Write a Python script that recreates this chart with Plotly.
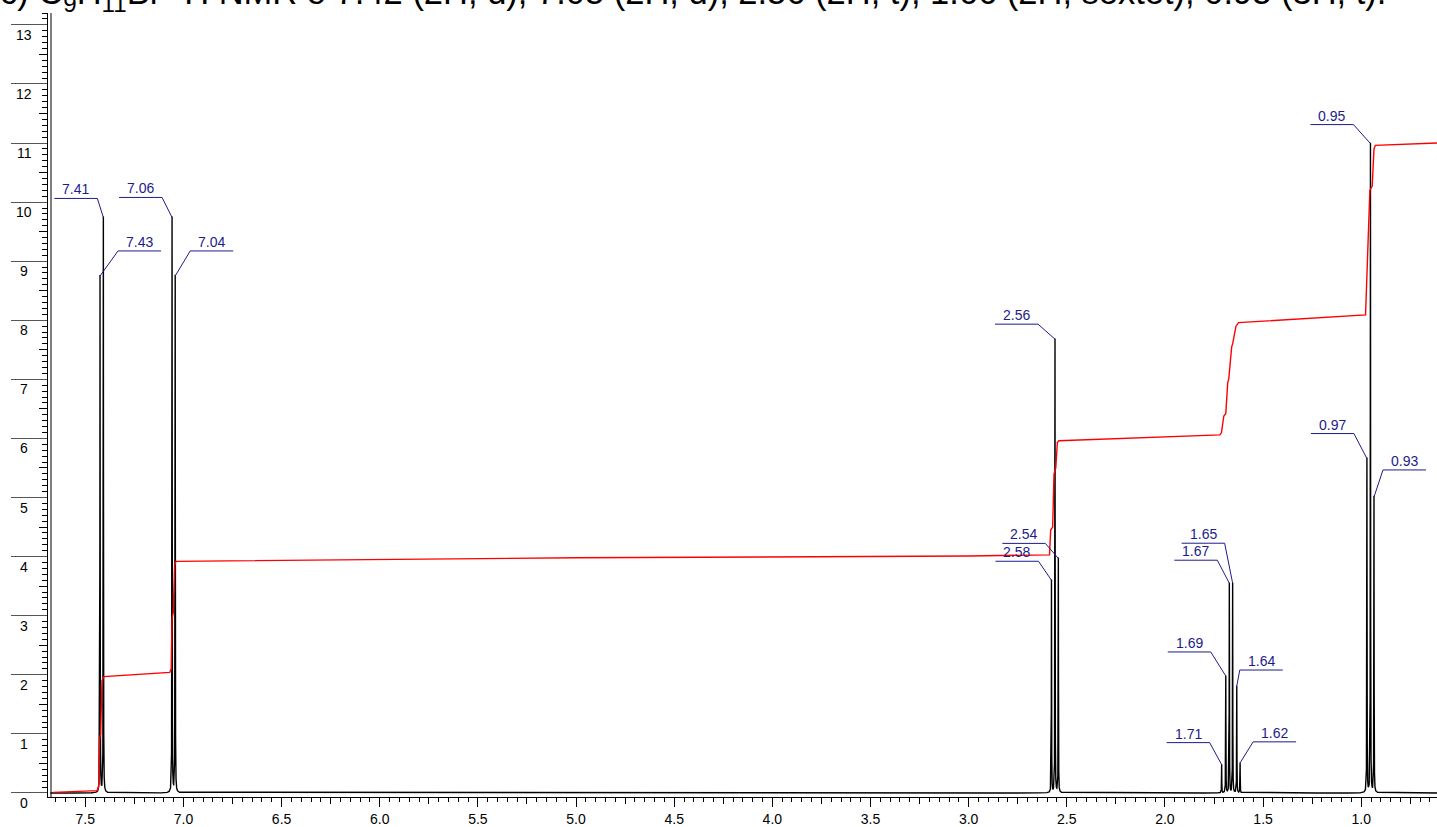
import numpy as np
import plotly.graph_objects as go

# ---------------- data ----------------
peak_ppm = [7.425, 7.408, 7.058, 7.042, 2.578, 2.560, 2.543,
            1.711, 1.690, 1.672, 1.655, 1.634, 1.617, 0.971, 0.953, 0.935]
peak_height = [8.75, 9.74, 9.74, 8.75, 3.60, 7.68, 3.97,
               0.48, 1.98, 3.55, 3.55, 1.81, 0.51, 5.66, 10.99, 5.01]
peak_label = ["7.43", "7.41", "7.06", "7.04", "2.58", "2.56", "2.54",
              "1.71", "1.69", "1.67", "1.65", "1.64", "1.62", "0.97", "0.95", "0.93"]

integral_ppm = [7.665, 7.44, 7.432, 7.427, 7.422, 7.415, 7.405, 7.07, 7.062, 7.058,
                7.052, 7.045, 7.038, 5.0, 3.0, 2.588, 2.582, 2.572, 2.565, 2.556,
                2.548, 2.54, 1.72, 1.712, 1.70, 1.69, 1.68, 1.675, 1.66, 1.655,
                1.638, 1.625, 0.978, 0.968, 0.956, 0.944, 0.935, 0.928, 0.614]
integral_value = [0.01, 0.04, 0.1, 0.93, 1.0, 1.9, 1.97, 2.04, 2.1, 2.96,
                  3.05, 3.85, 3.92, 3.98, 4.01, 4.03, 4.45, 4.5, 5.4, 5.5,
                  5.93, 5.96, 6.06, 6.1, 6.38, 6.42, 6.95, 7.0, 7.55, 7.6,
                  7.9, 7.96, 8.09, 9.0, 10.2, 10.27, 10.9, 10.96, 11.0]

x_tick_values = [7.5, 7.0, 6.5, 6.0, 5.5, 5.0, 4.5, 4.0, 3.5, 3.0, 2.5, 2.0, 1.5, 1.0]
y_tick_values = list(range(0, 14))

title_text = ("c) C<sub>9</sub>H<sub>11</sub>Br <sup>1</sup>H NMR δ 7.42 (2H, d), "
              "7.05 (2H, d), 2.56 (2H, t), 1.66 (2H, sextet), 0.95 (3H, t).")

# ---------------- layout constants ----------------
W, H = 1437, 827
ML, MR, MT, MB = 48, 0, 13, 30
PW, PH = W - ML - MR, H - MT - MB
X_RANGE = [7.69, 0.614]
Y_RANGE = [-0.068, 13.2]
PX_PER_PPM = PW / (X_RANGE[0] - X_RANGE[1])
PX_PER_UNIT = PH / (Y_RANGE[1] - Y_RANGE[0])

NAVY = "#1c1c8c"
FONT = "Arial, Liberation Sans, sans-serif"

# label leader geometry: (side, dx px to elbow, dy px up to elbow)
label_geom = [("R", 18, 25), ("L", 6, 19), ("L", 10, 20), ("R", 15, 25),
              ("L", 13, 19), ("L", 17, 15), ("L", 13, 15),
              ("L", 12, 22), ("L", 15, 24), ("L", 12, 23), ("L", 8, 40),
              ("R", 3, 16), ("R", 13, 21), ("L", 13, 25), ("L", 17, 19), ("R", 9, 27)]
UNDERLINE_PX = 43
LW_HALF = 0.0007  # line half width (ppm)

# ---------------- spectrum ----------------
grid = [np.arange(X_RANGE[1], 7.68, 0.002)]
for p in peak_ppm:
    grid.append(np.arange(p - 0.03, p + 0.03, 0.0001))
grid.append(np.array(peak_ppm))
x_spec = np.unique(np.concatenate(grid))
x_spec = x_spec[(x_spec >= X_RANGE[1]) & (x_spec <= 7.68)]
y_spec = np.zeros_like(x_spec)
for p, h in zip(peak_ppm, peak_height):
    y_spec += h * LW_HALF ** 2 / ((x_spec - p) ** 2 + LW_HALF ** 2)

fig = go.Figure()
fig.add_trace(go.Scatter(x=x_spec, y=y_spec, mode="lines",
                         line=dict(color="black", width=1.4),
                         hoverinfo="skip", showlegend=False))
fig.add_trace(go.Scatter(x=integral_ppm, y=integral_value, mode="lines",
                         line=dict(color="#ff0000", width=1.4),
                         hoverinfo="skip", showlegend=False))

# leaders
lx, ly = [], []
annotations = []
for p, h, lab, (side, dx, dy) in zip(peak_ppm, peak_height, peak_label, label_geom):
    sgn = -1 if side == "L" else 1          # screen direction
    ex = p - sgn * dx / PX_PER_PPM
    ey = h + dy / PX_PER_UNIT
    fx = ex - sgn * UNDERLINE_PX / PX_PER_PPM
    lx += [p, ex, fx, None]
    ly += [h, ey, ey, None]
    annotations.append(dict(x=(ex + fx) / 2, y=ey, xref="x", yref="y", text=lab,
                            showarrow=False, xanchor="center", yanchor="bottom",
                            yshift=-1, font=dict(family=FONT, size=14, color=NAVY)))
fig.add_trace(go.Scatter(x=lx, y=ly, mode="lines", line=dict(color=NAVY, width=1),
                         hoverinfo="skip", showlegend=False))

# helper trace for the medium-tick axes
fig.add_trace(go.Scatter(x=[None], y=[None], xaxis="x2", yaxis="y2",
                         hoverinfo="skip", showlegend=False))

# y tick labels (below each major line)
for v in y_tick_values:
    annotations.append(dict(x=(24 - ML) / PW, y=v, xref="paper", yref="y", text=str(v),
                            showarrow=False, xanchor="center", yanchor="top", yshift=0,
                            font=dict(family=FONT, size=14, color="black")))

annotations.append(dict(x=(-2 - ML) / PW, y=1, xref="paper", yref="paper", text=title_text,
                        showarrow=False, xanchor="left", yanchor="bottom", yshift=-6,
                        font=dict(family=FONT, size=34.5, color="black")))

x_mid = [v - 0.25 for v in x_tick_values] + [x_tick_values[0] + 0.25]
y_mid = [v + 0.5 for v in y_tick_values if v + 0.5 < Y_RANGE[1]]

fig.update_layout(
    width=W, height=H,
    margin=dict(l=ML, r=MR, t=MT, b=MB, autoexpand=False),
    paper_bgcolor="white", plot_bgcolor="white",
    showlegend=False,
    annotations=annotations,
    xaxis=dict(range=X_RANGE, tickvals=x_tick_values,
               ticktext=[f"{v:.1f}" for v in x_tick_values],
               ticks="outside", ticklen=9, tickwidth=1, tickcolor="black",
               showline=True, linecolor="black", linewidth=1,
               showgrid=False, zeroline=False,
               tickfont=dict(family=FONT, size=14, color="black"),
               minor=dict(dtick=0.05, tick0=0, ticks="outside", ticklen=4,
                          tickcolor="black", tickwidth=1, showgrid=False)),
    yaxis=dict(range=Y_RANGE, tickvals=y_tick_values, showticklabels=False,
               ticks="outside", ticklen=36, tickwidth=1, tickcolor="#555555",
               showline=True, linecolor="black", linewidth=1,
               showgrid=False, zeroline=False,
               minor=dict(dtick=0.1, tick0=0, ticks="outside", ticklen=5,
                          tickcolor="black", tickwidth=1, showgrid=False)),
    xaxis2=dict(range=X_RANGE, overlaying="x", anchor="y", side="bottom",
                tickvals=x_mid, ticks="outside", ticklen=6, tickcolor="black",
                showticklabels=False, showline=False, showgrid=False, zeroline=False),
    yaxis2=dict(range=Y_RANGE, overlaying="y", anchor="x", side="left",
                tickvals=y_mid, ticks="outside", ticklen=8, tickcolor="black",
                showticklabels=False, showline=False, showgrid=False, zeroline=False),
    shapes=[dict(type="line", xref="paper", yref="paper", x0=3 / PW, x1=3 / PW,
                 y0=0, y1=1, line=dict(color="black", width=1))],
)

fig.write_html("out.html", config={"displayModeBar": False},
               post_script="document.body.style.margin='0';document.body.style.overflow='hidden';")
